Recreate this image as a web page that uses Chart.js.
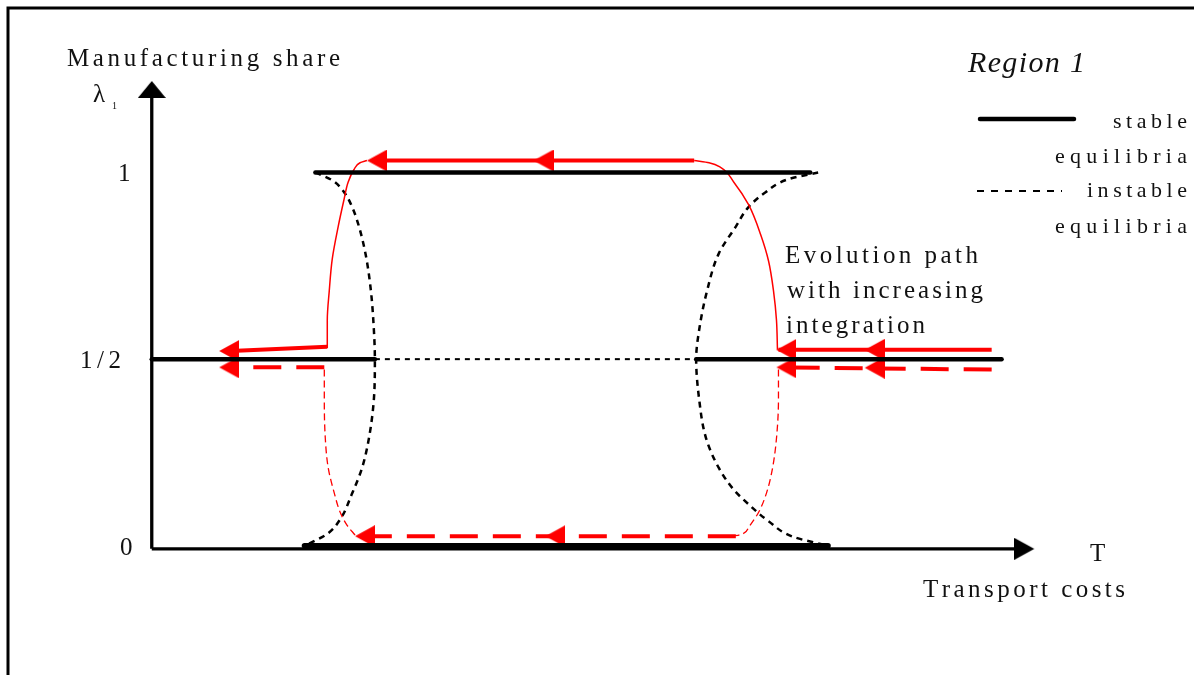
<!DOCTYPE html>
<html>
<head>
<meta charset="utf-8">
<script src="https://cdn.jsdelivr.net/npm/chart.js@4.4.1/dist/chart.umd.min.js"></script>
<style>
  body { margin: 0; background: #fff; }
  #wrap { width: 1194px; height: 675px; }
</style>
</head>
<body>
<div id="wrap"><canvas id="diagram" width="1194" height="675"></canvas></div>
<script>
// x = transport costs T, y = manufacturing share λ1
const tickValues = [1, 0.5, 0];
const tickLabels = ["1", "1/2", "0"];

// stable equilibria: [T from, T to, λ]
const stableSegments = [[1.65, 6.64, 1], [0, 2.25, 0.5], [5.49, 8.57, 0.5], [1.54, 6.82, 0]];

// instable equilibria
const unstableMidT = [2.25, 5.49];
const unstableMidL = [0.5, 0.5];
const unstableLeftT = [1.65, 1.82, 1.94, 2.02, 2.09, 2.16, 2.21, 2.24, 2.25, 2.24, 2.19, 2.12, 2.02, 1.90, 1.77, 1.54];
const unstableLeftL = [1, 0.979, 0.947, 0.908, 0.855, 0.776, 0.683, 0.578, 0.5, 0.393, 0.288, 0.208, 0.140, 0.071, 0.032, 0];
const unstableRightT = [6.72, 6.42, 6.19, 6.02, 5.89, 5.72, 5.60, 5.52, 5.49, 5.52, 5.59, 5.72, 5.87, 6.02, 6.22, 6.47, 6.82];
const unstableRightL = [1, 0.982, 0.947, 0.908, 0.855, 0.784, 0.683, 0.578, 0.5, 0.393, 0.288, 0.208, 0.150, 0.111, 0.066, 0.024, 0];

// evolution path starting above 1/2 (solid red)
const solidThick = [[[8.47, 0.525], [6.32, 0.525]], [[5.47, 1.032], [2.30, 1.032]], [[1.77, 0.533], [0.80, 0.522]]];
const solidRightT = [5.47, 5.62, 5.74, 5.87, 6.02, 6.14, 6.22, 6.27, 6.30, 6.31];
const solidRightL = [1.032, 1.026, 1.013, 0.974, 0.913, 0.834, 0.763, 0.683, 0.604, 0.525];
const solidLeftT = [2.17, 2.10, 2.04, 1.98, 1.94, 1.88, 1.82, 1.79, 1.77, 1.77];
const solidLeftL = [1.032, 1.026, 1.008, 0.974, 0.929, 0.855, 0.768, 0.683, 0.604, 0.530];
const solidArrowT = [7.19, 6.30, 3.85, 2.17, 0.68];
const solidArrowL = [0.525, 0.525, 1.032, 1.032, 0.522];

// evolution path starting below 1/2 (dashed red)
const dashedThick = [[[8.47, 0.472], [6.35, 0.478]], [[5.89, 0.026], [2.15, 0.026]], [[1.74, 0.478], [0.80, 0.478]]];
const dashedRightT = [6.32, 6.32, 6.30, 6.26, 6.20, 6.12, 6.02, 5.92, 5.82];
const dashedRightL = [0.472, 0.393, 0.288, 0.208, 0.142, 0.090, 0.050, 0.029, 0.026];
const dashedLeftT = [2.05, 1.97, 1.90, 1.84, 1.78, 1.75, 1.74, 1.74];
const dashedLeftL = [0.029, 0.055, 0.090, 0.142, 0.208, 0.288, 0.393, 0.475];
const dashedArrowT = [7.19, 6.30, 3.97, 2.05, 0.68];
const dashedArrowL = [0.477, 0.478, 0.026, 0.026, 0.478];

// axes
const axisY = [[0, -0.008], [0, 1.2]];
const axisYTip = [[0, 1.245]];
const axisX = [[0, -0.008], [8.72, -0.008]];
const axisXTip = [[8.90, -0.008]];

const RED = "#ff0000";
const INK = "#111111";

const pts = (xs, ys) => xs.map((x, i) => ({ x, y: ys[i] }));
const pairs = arr => arr.map(p => ({ x: p[0], y: p[1] }));

// arrowhead image with its tip in the centre of the canvas
function arrowHead(dir, len, half, color) {
  const c = document.createElement("canvas");
  const horiz = dir === "left" || dir === "right";
  c.width = horiz ? len * 2 : half * 2;
  c.height = horiz ? half * 2 : len * 2;
  const g = c.getContext("2d");
  g.fillStyle = color;
  g.beginPath();
  if (dir === "left") { g.moveTo(len, half); g.lineTo(2 * len, 0); g.lineTo(2 * len, 2 * half); }
  if (dir === "right") { g.moveTo(len, half); g.lineTo(0, 0); g.lineTo(0, 2 * half); }
  if (dir === "up") { g.moveTo(half, len); g.lineTo(0, 2 * len); g.lineTo(2 * half, 2 * len); }
  g.closePath();
  g.fill();
  return c;
}

const redArrow = arrowHead("left", 20, 11, RED);
const upArrow = arrowHead("up", 17, 14, "#000");
const rightArrow = arrowHead("right", 20, 11, "#000");

function line(data, color, width, dash, cap) {
  return {
    data, borderColor: color, borderWidth: width, borderDash: dash || [],
    borderCapStyle: cap || "butt", pointRadius: 0, tension: 0, fill: false
  };
}
// smooth curve, monotone along λ
function curve(data, color, width, dash) {
  return Object.assign(line(data, color, width, dash), { indexAxis: "y", cubicInterpolationMode: "monotone" });
}
function marks(data, img) {
  return { data, showLine: false, pointStyle: img, pointRadius: 5, borderWidth: 0 };
}

const datasets = [
  ...stableSegments.map(s => line([{ x: s[0], y: s[2] }, { x: s[1], y: s[2] }], "#000", s[2] === 0 ? 5.5 : 4.5, [], "round")),
  marks(pts(solidArrowT, solidArrowL), redArrow),
  marks(pts(dashedArrowT, dashedArrowL), redArrow),
  ...solidThick.map(s => line(pairs(s), RED, 4)),
  ...dashedThick.map(s => line(pairs(s), RED, 4, [28, 15])),
  curve(pts(solidRightT, solidRightL), RED, 1.5),
  curve(pts(solidLeftT, solidLeftL), RED, 1.5),
  curve(pts(dashedRightT, dashedRightL), RED, 1.3, [7, 4]),
  curve(pts(dashedLeftT, dashedLeftL), RED, 1.3, [7, 4]),
  line(pts(unstableMidT, unstableMidL), "#000", 2, [5, 5]),
  curve(pts(unstableLeftT, unstableLeftL), "#000", 2.5, [6, 5]),
  curve(pts(unstableRightT, unstableRightL), "#000", 2.5, [6, 5]),
  marks(pairs(axisYTip), upArrow),
  marks(pairs(axisXTip), rightArrow),
  line(pairs(axisY), "#000", 3.3),
  line(pairs(axisX), "#000", 3.3)
];

// text spread letter by letter between a left and right edge
function spaced(ctx, str, left, right, base, font) {
  ctx.font = font;
  const chars = [...str];
  const w = chars.map(c => ctx.measureText(c).width);
  const raw = w.reduce((a, b) => a + b, 0);
  const gap = chars.length > 1 ? (right - left - raw) / (chars.length - 1) : 0;
  let x = left;
  chars.forEach((c, i) => { ctx.fillText(c, x, base); x += w[i] + gap; });
}

const SERIF = "'Liberation Serif', 'Times New Roman', serif";
const texts = [
  ["Manufacturing share", 67, 340, 66, "25px"],
  ["λ", 93, 110, 102, "25px"],
  ["1", 112, 116, 109, "10px"],
  ["Region 1", 968, 1085, 72, "italic 30px"],
  ["stable", 1113, 1187, 128, "22px"],
  ["equilibria", 1055, 1187, 163, "22px"],
  ["instable", 1087, 1187, 197, "22px"],
  ["equilibria", 1055, 1187, 233, "22px"],
  ["Evolution path", 785, 978, 263, "25px"],
  ["with increasing", 787, 983, 298, "25px"],
  ["integration", 786, 925, 333, "25px"],
  ["T", 1090, 1105, 561, "25px"],
  ["Transport costs", 923, 1125, 597, "25px"]
];
const tickLeft = [118, 80, 120];
const tickRight = [128, 121, 132];

const decor = {
  id: "decor",
  afterDraw(chart) {
    const ctx = chart.ctx;
    const yScale = chart.scales.y;
    ctx.save();
    // frame
    ctx.strokeStyle = "#000";
    ctx.lineWidth = 3;
    ctx.beginPath();
    ctx.moveTo(8, 675); ctx.lineTo(8, 8); ctx.lineTo(1194, 8);
    ctx.stroke();
    // legend samples
    ctx.lineWidth = 4.5;
    ctx.lineCap = "round";
    ctx.beginPath(); ctx.moveTo(980, 119); ctx.lineTo(1074, 119); ctx.stroke();
    ctx.lineWidth = 2;
    ctx.lineCap = "butt";
    ctx.setLineDash([7, 7]);
    ctx.beginPath(); ctx.moveTo(977, 191); ctx.lineTo(1062, 191); ctx.stroke();
    ctx.setLineDash([]);
    // texts
    ctx.fillStyle = INK;
    ctx.textBaseline = "alphabetic";
    texts.forEach(t => spaced(ctx, t[0], t[1], t[2], t[3], t[4] + " " + SERIF));
    tickLabels.forEach((lab, i) => {
      const y = yScale.getPixelForValue(tickValues[i]) + 9;
      spaced(ctx, lab, tickLeft[i], tickRight[i], y, "25px " + SERIF);
    });
    ctx.restore();
  }
};

new Chart(document.getElementById("diagram"), {
  type: "line",
  data: { datasets },
  options: {
    responsive: false,
    animation: false,
    events: [],
    layout: { padding: 0 },
    plugins: { legend: { display: false }, tooltip: { enabled: false } },
    scales: {
      x: { type: "linear", min: -1.48, max: 10.46, display: false },
      y: { type: "linear", min: -0.3325, max: 1.4485, display: false }
    }
  },
  plugins: [decor]
});
</script>
</body>
</html>
